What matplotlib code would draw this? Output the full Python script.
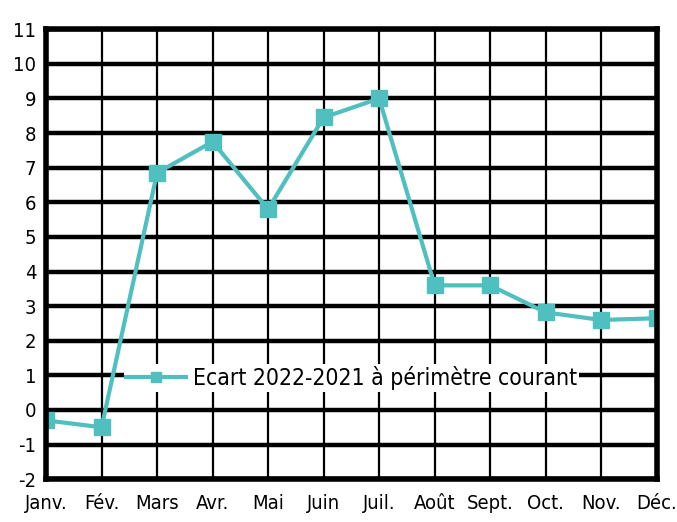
import matplotlib.pyplot as plt

months = ["Janv.", "Fév.", "Mars", "Avr.", "Mai", "Juin", "Juil.",
          "Août", "Sept.", "Oct.", "Nov.", "Déc."]
ecart = [-0.3, -0.5, 6.85, 7.75, 5.8, 8.45, 9.0, 3.6, 3.6, 2.82, 2.6, 2.65]
y_ticks = list(range(-2, 12))

plt.rcParams["font.family"] = ["DejaVu Sans"]
plt.rcParams["font.stretch"] = "condensed"
plt.rcParams["axes.unicode_minus"] = False

fig, ax = plt.subplots(figsize=(6.77, 5.22), dpi=100)
fig.subplots_adjust(left=0.068, right=0.970, top=0.944, bottom=0.082)

x = list(range(len(months)))
for yv in y_ticks:
    ax.axhline(yv, color="black", lw=3.2, zorder=1)
for xv in x:
    ax.axvline(xv, color="black", lw=1.6, zorder=1)

ax.plot(x, ecart, color="#4fbfbf", lw=3, marker="s", markersize=11,
        markeredgecolor="#4fbfbf", zorder=3,
        label="Ecart 2022-2021 à périmètre courant")

ax.set_xlim(0, len(months) - 1)
ax.set_ylim(-2, 11)
ax.set_xticks(x)
ax.set_xticklabels(months)
ax.set_yticks(y_ticks)
ax.tick_params(axis="y", length=0, labelsize=14.5, pad=7)
ax.tick_params(axis="x", length=0, labelsize=14.5, pad=11)
for s in ax.spines.values():
    s.set_linewidth(4)
    s.set_zorder(4)

leg = ax.legend(loc="center", bbox_to_anchor=(0.5, 0.225), fontsize=16.5,
                frameon=True, fancybox=False, handlelength=2.6,
                borderpad=0.1, handletextpad=0.3, markerscale=0.7)
leg.get_frame().set_edgecolor("none")
leg.get_frame().set_facecolor("white")
leg.get_frame().set_alpha(1)

fig.savefig("out.png", dpi=100)
